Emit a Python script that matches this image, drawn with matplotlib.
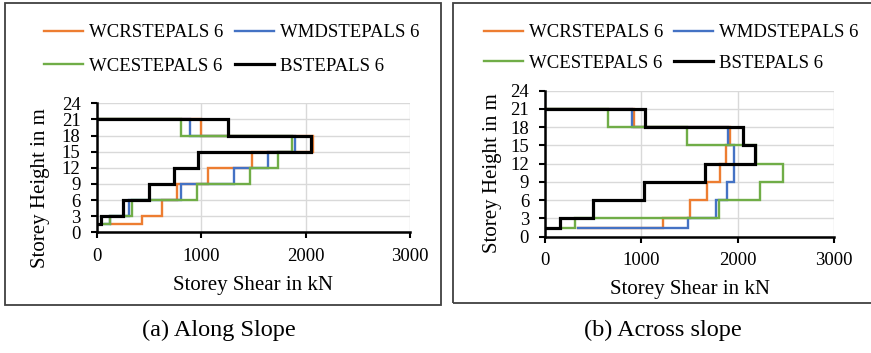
import numpy as np
import matplotlib
matplotlib.use('Agg')
import matplotlib.pyplot as plt
from matplotlib.patches import Rectangle

plt.rcParams['font.family'] = ['Liberation Serif', 'DejaVu Serif']

###############################################################################
# Data (storey shear in kN)
###############################################################################
levels = [1.5, 3, 6, 9, 12, 15, 18, 21]   # storey boundaries, m
series_names = ['WCRSTEPALS 6', 'WMDSTEPALS 6', 'WCESTEPALS 6', 'BSTEPALS 6']
series_colors = ['#ED7D31', '#4472C4', '#70AD47', '#000000']

# (a) along slope: shear in each storey, bottom to top, and start value at 1.5 m
along_start = [136, 80, 65, 0]
along_wcr = [432, 624, 770, 1070, 1490, 2068, 1000]
along_wmd = [125, 312, 813, 1312, 1644, 1900, 895]
along_wce = [129, 337, 965, 1472, 1740, 1868, 806]
along_b = [40, 257, 502, 745, 968, 2052, 1261]

# (b) across slope
across_start = [340, 340, 166, 0]
across_wcr = [1220, 1503, 1680, 1810, 1876, 1917, 922]
across_wmd = [1485, 1775, 1890, 1965, 1965, 1893, 898]
across_wce = [313, 1805, 2230, 2470, 2192, 1475, 656]
across_b = [155, 493, 1030, 1662, 2176, 2055, 1036]

x_ticks = [0, 1000, 2000, 3000]
y_ticks = list(range(0, 25, 3))

captions = ['(a) Along Slope', '(b) Across slope']


###############################################################################
def step_xy(start, shear):
    # storey shear drawn as a step: vertical in each storey, back to 0 at roof
    xs, ys = [start], [levels[0]]
    for i, v in enumerate(shear):
        xs += [v, v]
        ys += [levels[i], levels[i + 1]]
    xs.append(0)
    ys.append(levels[-1])
    return xs, ys


def draw_panel(ax, starts, data, ylab_y):
    lines = []
    for s, d, c, n in zip(starts, data, series_colors, series_names):
        xs, ys = step_xy(s, d)
        lw = 2.3 if c == '#000000' else 1.7
        l, = ax.plot(xs, ys, color=c, lw=lw, label=n, solid_joinstyle='miter')
        lines.append(l)
    ax.set_xlim(0, 3000)
    ax.set_ylim(0, 24)
    ax.set_xticks(x_ticks)
    ax.set_yticks(y_ticks)
    ax.grid(True, color='#D9D9D9', lw=1.0)
    ax.set_axisbelow(True)
    for sp in ['top', 'right']:
        ax.spines[sp].set_visible(False)
    for sp in ['left', 'bottom']:
        ax.spines[sp].set_linewidth(1.8)
        ax.spines[sp].set_color('black')
        ax.spines[sp].set_zorder(5)
    ax.tick_params(axis='both', direction='out', length=4, width=1.5,
                   labelsize=13.5, colors='black')
    ax.tick_params(axis='y', pad=7.5)
    ax.tick_params(axis='x', pad=7)
    ax.set_xlabel('Storey Shear in kN', fontsize=15, labelpad=8)
    ax.set_ylabel('Storey Height in m', fontsize=15)
    ax.yaxis.set_label_coords(-0.147, ylab_y)
    return lines


fig = plt.figure(figsize=(8.71, 3.53), dpi=100)

# panel borders
fig.add_artist(Rectangle((5 / 871, 1 - 305 / 353), 436 / 871, 302 / 353,
                         transform=fig.transFigure, fill=False,
                         ec='#404040', lw=1.3))
fig.add_artist(Rectangle((453 / 871, 1 - 303 / 353), 430 / 871, 300 / 353,
                         transform=fig.transFigure, fill=False,
                         ec='#404040', lw=1.3))

ax1 = fig.add_axes([96.5 / 871, 1 - 232.3 / 353, (410 - 96.5) / 871, 129 / 353])
ax2 = fig.add_axes([545 / 871, 1 - 236.7 / 353, (834.3 - 545) / 871, 146 / 353])

l1 = draw_panel(ax1, along_start, [along_wcr, along_wmd, along_wce, along_b], 0.343)
l2 = draw_panel(ax2, across_start, [across_wcr, across_wmd, across_wce, across_b], 0.436)

order = [0, 2, 1, 3]   # row-wise legend: orange, blue / green, black
for lines, cx, cy, sp in [(l1, 231.5 / 871, 1 - 49.5 / 353, 0.87),
                          (l2, 671 / 871, 1 - 48 / 353, 0.7)]:
    fig.legend([lines[i] for i in order], [series_names[i] for i in order],
               loc='center', bbox_to_anchor=(cx, cy), ncol=2,
               frameon=False, fontsize=13.5, handlelength=2.1,
               handletextpad=0.3, columnspacing=0.6, labelspacing=sp,
               borderpad=0)

fig.text(219 / 871, 1 - 330 / 353, captions[0], ha='center', va='center', fontsize=17.5)
fig.text(663 / 871, 1 - 330 / 353, captions[1], ha='center', va='center', fontsize=17.5)

fig.savefig('out.png', dpi=100)
